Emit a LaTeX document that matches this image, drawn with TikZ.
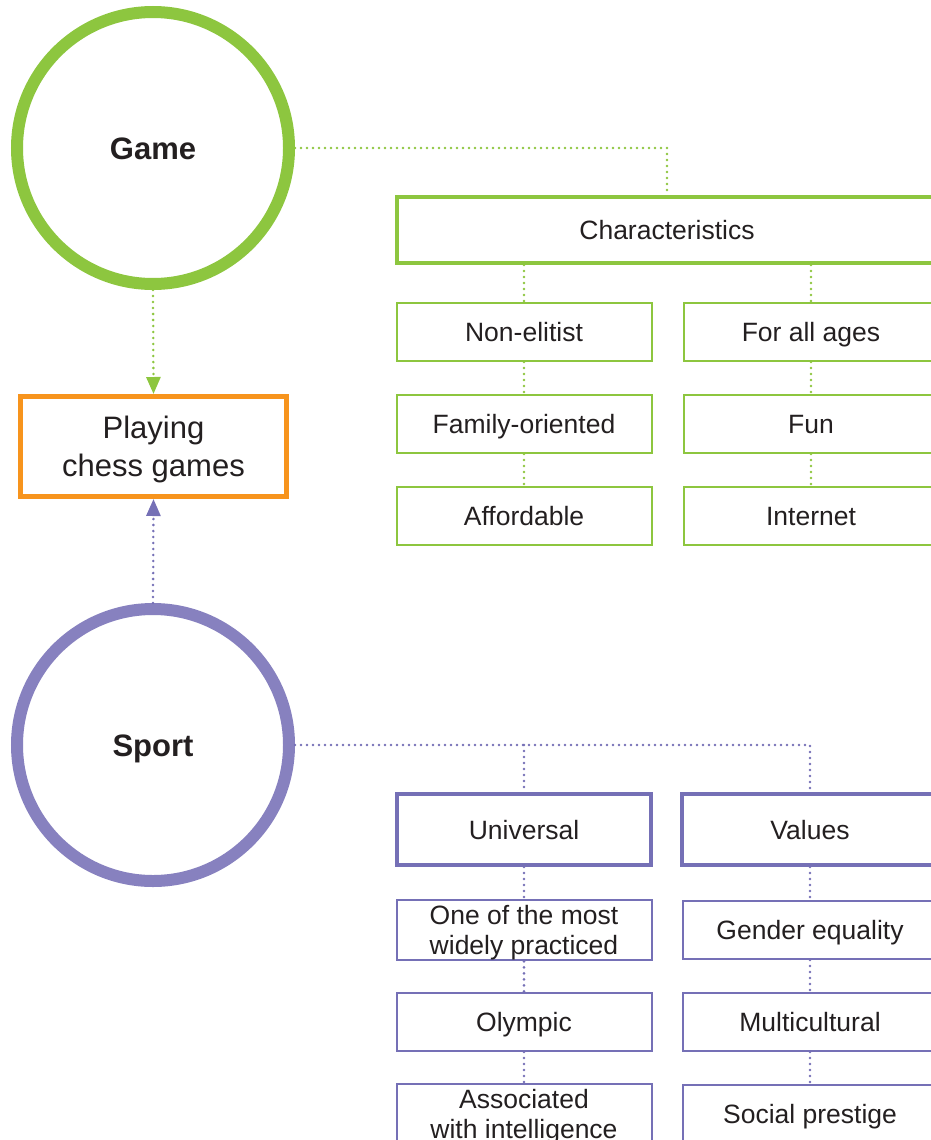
\documentclass[tikz,border=0pt]{standalone}
\usepackage{fontspec}
\setmainfont{Liberation Sans}
\usetikzlibrary{arrows.meta}
\definecolor{gamegreen}{HTML}{8DC63F}
\definecolor{sportring}{HTML}{8781BF}
\definecolor{sportline}{HTML}{7570B6}
\definecolor{playorange}{HTML}{F7941D}
\definecolor{ink}{HTML}{231F20}
% two centred lines with struts, so the block sits optically centred in its box
\newcommand\stackedtext[2]{\rule{0pt}{0.94em}#1\\#2\rule[-0.22em]{0pt}{0pt}}
\begin{document}
\begin{tikzpicture}[x=1pt,y=-1pt,
  oneline/.style={text height=24.9pt, text depth=5.8pt},
  hub/.style={circle, draw, fill=white, line width=12pt, minimum size=272pt, inner sep=0pt,
    text=ink, text height=29.1pt, text depth=6.8pt,
    font=\fontsize{31}{36}\selectfont\bfseries},
  playbox/.style={rectangle, draw=playorange, line width=5pt, minimum width=266pt,
    minimum height=100pt, inner sep=0pt, align=center, text=ink,
    font=\fontsize{31}{38}\selectfont},
  headbox/.style={rectangle, draw, line width=4pt, minimum height=66pt, inner sep=0pt,
    text=ink, oneline, font=\fontsize{26.5}{30}\selectfont},
  itembox/.style={rectangle, draw, line width=2pt, minimum width=255pt, minimum height=58pt,
    inner sep=0pt, align=center, text=ink, font=\fontsize{26.5}{30}\selectfont},
  dots/.style={line width=2.8pt, line cap=round, dash pattern=on 0pt off 6pt},
  tip/.style={-{Triangle[length=17pt,width=14pt]}}
]
\useasboundingbox (0,0) rectangle (931,1140);
\clip (0,0) rectangle (931,1140);

% ---- Game branch ----
\node[hub, draw=gamegreen] (game) at (153,148) {Game};
\node[playbox] (play) at (153.5,446.5) {\stackedtext{Playing}{chess games}};
\node[headbox, draw=gamegreen, minimum width=540pt] (chars) at (667,230) {Characteristics};

\node[itembox, oneline, draw=gamegreen] (g11) at (524,332) {Non-elitist};
\node[itembox, oneline, draw=gamegreen] (g12) at (524,424) {Family-oriented};
\node[itembox, oneline, draw=gamegreen] (g13) at (524,516) {Affordable};
\node[itembox, oneline, draw=gamegreen] (g21) at (811,332) {For all ages};
\node[itembox, oneline, draw=gamegreen] (g22) at (811,424) {Fun};
\node[itembox, oneline, draw=gamegreen] (g23) at (811,516) {Internet};

\draw[dots, gamegreen] (game.east) -| (chars.north);
\draw[dots, gamegreen, tip] (game.south) -- (play.north);
\draw[dots, gamegreen] (g11.north |- chars.south) -- (g11.north);
\draw[dots, gamegreen] (g21.north |- chars.south) -- (g21.north);
\draw[dots, gamegreen] (g11) -- (g12);
\draw[dots, gamegreen] (g12) -- (g13);
\draw[dots, gamegreen] (g21) -- (g22);
\draw[dots, gamegreen] (g22) -- (g23);

% ---- Sport branch ----
\node[hub, draw=sportring] (sport) at (153,745) {Sport};
\node[headbox, draw=sportline, minimum width=254pt, minimum height=71pt] (univ) at (524,829.5) {Universal};
\node[headbox, draw=sportline, minimum width=256pt, minimum height=71pt] (vals) at (810,829.5) {Values};

\node[itembox, draw=sportline] (s11) at (524,930) {\stackedtext{One of the most}{widely practiced}};
\node[itembox, oneline, draw=sportline] (s12) at (524,1022) {Olympic};
\node[itembox, draw=sportline] (s13) at (524,1114) {\stackedtext{Associated}{with intelligence}};
\node[itembox, oneline, draw=sportline] (s21) at (810,930) {Gender equality};
\node[itembox, oneline, draw=sportline] (s22) at (810,1022) {Multicultural};
\node[itembox, oneline, draw=sportline] (s23) at (810,1114) {Social prestige};

\draw[dots, sportline, tip] (sport.north) -- (play.south);
\draw[dots, sportline] (sport.east) -| (vals.north);
\draw[dots, sportline] (univ.north |- sport.east) -- (univ.north);
\draw[dots, sportline] (univ) -- (s11);
\draw[dots, sportline] (s11) -- (s12);
\draw[dots, sportline] (s12) -- (s13);
\draw[dots, sportline] (vals) -- (s21);
\draw[dots, sportline] (s21) -- (s22);
\draw[dots, sportline] (s22) -- (s23);
\end{tikzpicture}
\end{document}
